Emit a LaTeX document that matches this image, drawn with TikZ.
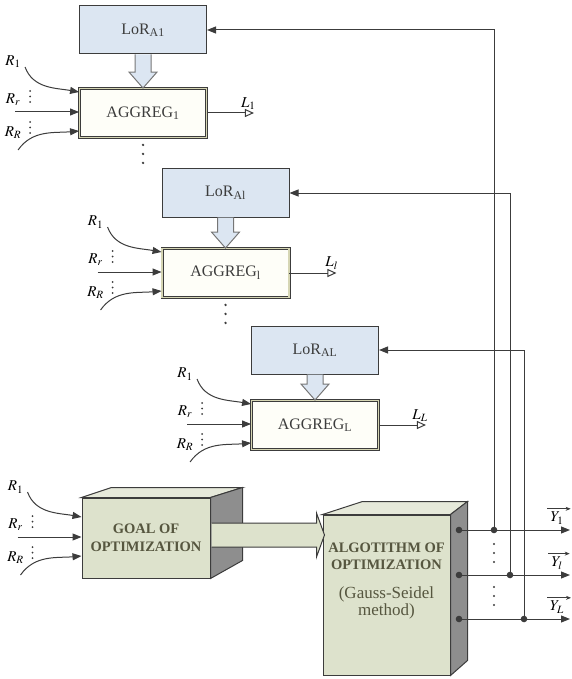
\documentclass[tikz,border=0pt]{standalone}
\usepackage{mathptmx}
\usepackage{fontspec}
\setmainfont{Liberation Serif}
\usetikzlibrary{arrows.meta,positioning,calc}
\definecolor{frame}{HTML}{3C3C3C}
\definecolor{lorfill}{HTML}{DCE6F2}
\definecolor{aggfill}{HTML}{FEFEF8}
\definecolor{aggline}{HTML}{D6D6B4}
\definecolor{optfill}{HTML}{DDE2CC}
\definecolor{opttop}{HTML}{E6E9DA}
\definecolor{optside}{HTML}{8E8E8E}
\definecolor{opttext}{HTML}{56563F}
\tikzset{
  lorbox/.style = {draw=frame, line width=1pt, fill=lorfill, minimum width=127pt, minimum height=48pt, inner sep=0pt, text=frame, font=\fontsize{16}{19}\selectfont},
  aggbox/.style = {draw=frame, line width=0.9pt, double=aggline, double distance=1.2pt, fill=aggfill, minimum width=127pt, minimum height=49pt, inner sep=0pt, text=frame, font=\fontsize{16}{19}\selectfont},
  optface/.style = {draw=frame, line width=1pt, fill=optfill, inner sep=0pt},
  opttop/.style = {draw=frame, line width=1pt, fill=opttop},
  optside/.style = {draw=frame, line width=1pt, fill=optside},
  opttext/.style = {text=opttext, align=center, font=\fontsize{14.5}{17.5}\selectfont},
  sigarrow/.style = {draw=frame, line width=1pt, -{Triangle[length=9pt,width=7pt]}},
  outarrow/.style = {draw=frame, line width=1pt, -{Triangle[open,length=9pt,width=8pt]}},
  vecarrow/.style = {draw=frame, line width=0.7pt, -{Stealth[length=5pt,width=4pt]}},
  fatdown/.style = {draw=frame!70, line width=1pt, fill=lorfill},
  fatright/.style = {draw=frame, line width=1pt, fill=optfill},
  rlabel/.style = {font=\fontsize{15}{17}\selectfont, inner sep=0pt},
  dotfill/.style = {fill=frame},
}
\begin{document}
\begin{tikzpicture}[x=1pt, y=1pt]
\useasboundingbox (0,0) rectangle (572,-679);

% first aggregation block
\node[lorbox] (lor1) at (143,-30) {LoR\textsubscript{A1}};
\node[aggbox] (agg1) at (143,-113) {AGGREG\textsubscript{1}};
\draw[outarrow] (agg1.east) -- ++(47,0) node[rlabel, above left, xshift=2pt, yshift=3pt] (l1) {$L_1$};

% l-th aggregation block
\node[lorbox] (lor2) at (225.5,-193) {LoR\textsubscript{Al}};
\node[aggbox] (agg2) at (225.5,-273) {AGGREG\textsubscript{l}};
\draw[outarrow] (agg2.east) -- ++(47,0) node[rlabel, above left, xshift=2pt, yshift=3pt] (l2) {$L_l$};

% L-th aggregation block
\node[lorbox] (lor3) at (315,-350) {LoR\textsubscript{AL}};
\node[aggbox] (agg3) at (315,-425) {AGGREG\textsubscript{L}};
\draw[outarrow] (agg3.east) -- ++(47,0) node[rlabel, above left, xshift=2pt, yshift=3pt] (l3) {$L_L$};

% hollow arrows LoR -> AGGREG, and dots below
\foreach \a/\b in {lor1/agg1,lor2/agg2,lor3/agg3} {
  \draw[fatdown] ($(\a.south)+(-8,0)$) -- ($(\b.north)+(-8,16)$) -- ($(\b.north)+(-14,16)$)
    -- (\b.north) -- ($(\b.north)+(14,16)$) -- ($(\b.north)+(8,16)$) -- ($(\a.south)+(8,0)$);
}
\foreach \b in {agg1,agg2} {
  \foreach \d in {7,16,25} \fill[dotfill] ($(\b.south)+(0,-\d)$) circle (1.3);
}

% goal of optimization (box)
\node[optface, minimum width=128pt, minimum height=80pt] (goal) at (146,-538) {};
\draw[opttop] (goal.north west) -- ++(30,10) -- ($(goal.north east)+(32,10)$) -- (goal.north east) -- cycle;
\draw[optside] (goal.north east) -- ++(32,10) -- ($(goal.south east)+(32,18)$) -- (goal.south east) -- cycle;
\node[opttext] (goaltext) at (goal.center) {\textbf{GOAL OF}\\\textbf{OPTIMIZATION}};

% algorithm of optimization (box)
\node[optface, minimum width=127pt, minimum height=160pt] (alg) at (386.5,-595) {};
\draw[opttop] (alg.north west) -- ++(40,13) -- ($(alg.north east)+(17,13)$) -- (alg.north east) -- cycle;
\draw[optside] (alg.north east) -- ++(17,13) -- ($(alg.south east)+(17,15)$) -- (alg.south east) -- cycle;
\node[opttext] (algtext) at (386.5,-581) {\textbf{ALGOTITHM OF}\\\textbf{OPTIMIZATION}\\[11pt]%
  {\fontsize{17}{18}\selectfont (Gauss-Seidel}\\{\fontsize{17}{18}\selectfont method)}};

% big arrow goal -> algorithm
\coordinate (fatbase) at ($(goal.east)+(0,3)$);
\coordinate (fattip) at (alg.west |- fatbase);
\draw[fatright] ($(fatbase)+(1,12)$) -- ($(fattip)+(-6,12)$) -- ($(fattip)+(-6,22)$) -- ($(fattip)+(2,0)$)
  -- ($(fattip)+(-6,-22)$) -- ($(fattip)+(-6,-12)$) -- ($(fatbase)+(1,-12)$);

% inputs R
\foreach \n in {agg1,agg2,agg3,goal} {
  \node[rlabel] (\n-r1) at ($(\n.west)+(-66,51)$) {$R_1$};
  \node[rlabel] (\n-rr) at ($(\n.west)+(-66,13)$) {$R_r$};
  \node[rlabel] (\n-rR) at ($(\n.west)+(-66,-20)$) {$R_R$};
  \draw[sigarrow] ($(\n.west)+(-54,46)$) to[out=-70,in=170] ($(\n.west)+(0,21)$);
  \draw[sigarrow] ($(\n.west)+(-64,1)$) -- ($(\n.west)+(0,1)$);
  \draw[sigarrow] ($(\n.west)+(-61,-37)$) to[out=55,in=185] ($(\n.west)+(0,-18)$);
  \foreach \d in {11,16.5,22,-9,-14.5,-20} \fill[dotfill] ($(\n.west)+(-49,\d)$) circle (1);
}

% outputs Y and feedback to LoR
\foreach \i/\y/\x/\lor/\lab in {1/530/494/lor1/1, 2/575/510/lor2/l, 3/619/524/lor3/L} {
  \coordinate (out\i) at (459,-\y);
  \coordinate (y\i) at (570,-\y);
  \coordinate (j\i) at (\x,-\y);
  \draw[sigarrow] (out\i) -- (y\i);
  \draw[sigarrow] (j\i) |- (\lor.east);
  \fill[dotfill] (out\i) circle (3.3);
  \fill[dotfill] (j\i) circle (3.3);
  \node[rlabel] (ylab\i) at ($(y\i)+(-13,12)$) {$Y_{\lab}$};
  \draw[vecarrow] ($(ylab\i.north west)+(-3,3)$) -- ($(ylab\i.north east)+(7,3)$);
}
\foreach \d in {14,23,32,57,66,75} \fill[dotfill] ($(j1)+(0,-\d)$) circle (1.2);

\end{tikzpicture}
\end{document}
